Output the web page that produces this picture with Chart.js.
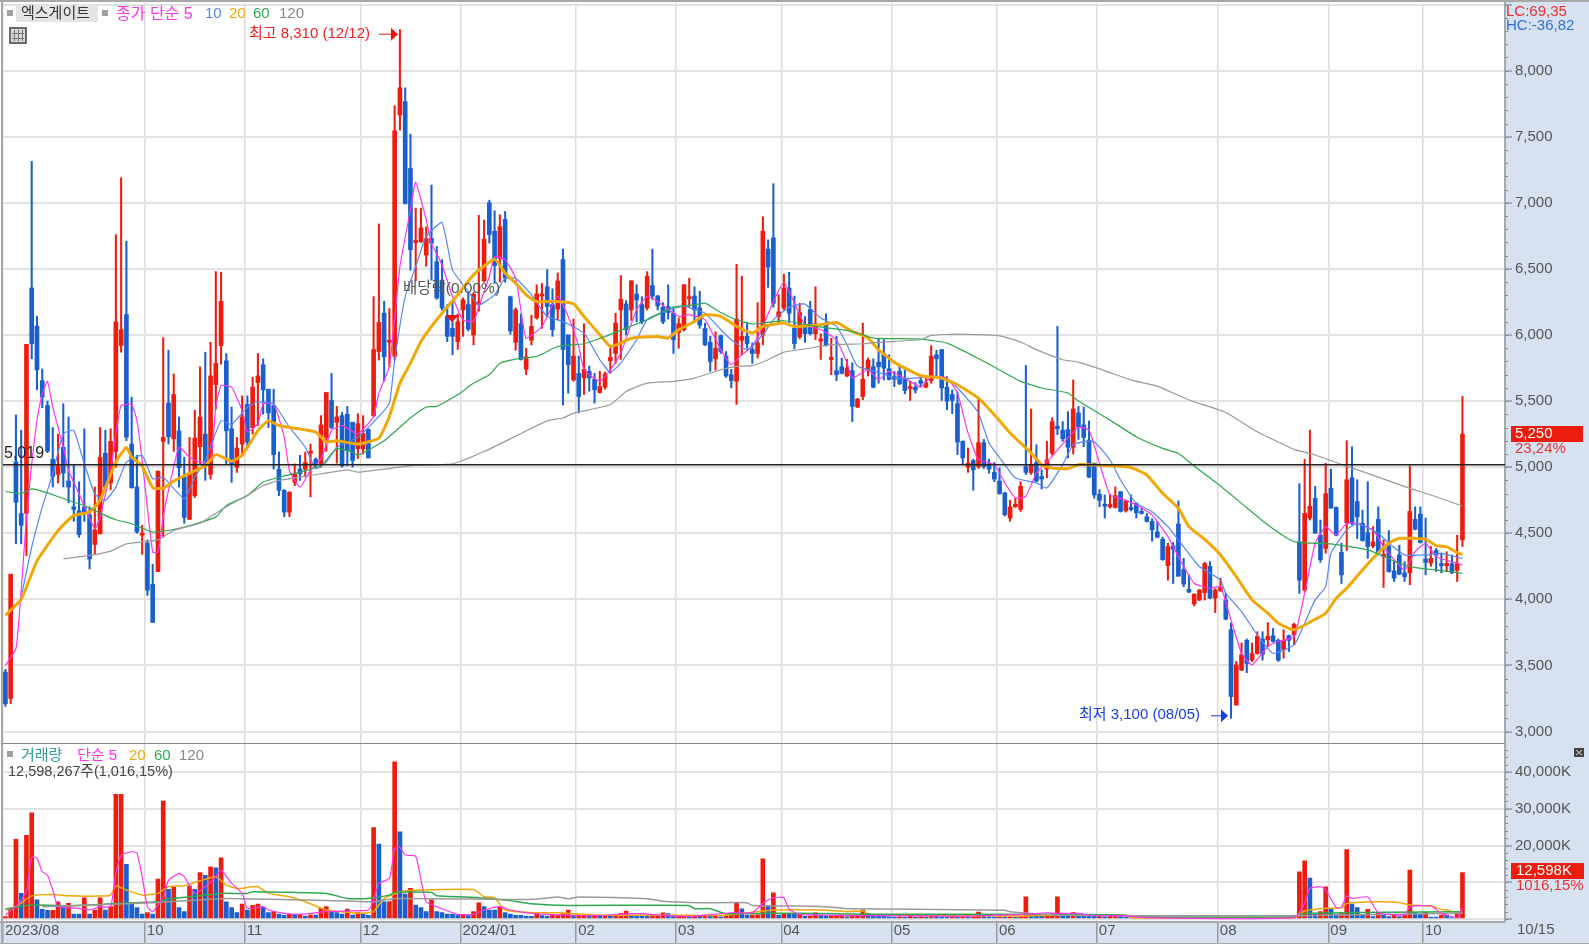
<!DOCTYPE html>
<html>
<head>
<meta charset="utf-8">
<title>엑스게이트</title>
<script src="https://cdn.jsdelivr.net/npm/chart.js@4/dist/chart.umd.min.js"></script>
<style>
  html, body { margin: 0; padding: 0; background: #fff; overflow: hidden; }
  canvas { position: absolute; left: 0; }
  #priceChart { top: 0; }
  #volumeChart { top: 744px; }
</style>
</head>
<body>
<canvas id="priceChart" width="1589" height="744"></canvas>
<canvas id="volumeChart" width="1589" height="203"></canvas>
<script>
// daily candles
const opens = [
  3450,3250,5040,4650,4650,6356,6067,5655,5466,5060,
  4945,5150,4895,4700,4670,4700,4640,4415,4495,5105,
  4880,5120,5920,6155,5175,4850,4485,4425,4113,4210,
  5195,5485,5215,5275,4925,4605,4785,5155,5250,4945,
  5625,5920,5805,5290,5000,5175,5475,5300,5640,5775,
  5590,5465,4985,4825,4660,4885,4985,4985,5105,5060,
  5025,5225,5505,5340,5390,5400,5340,5140,5140,5285,
  5390,5875,6165,5945,5840,7665,7765,7260,6700,6705,
  6605,6730,6555,6415,6140,6050,5950,6190,6230,6000,
  6230,6410,7000,6785,6580,6875,6290,5945,6085,5740,
  5960,6130,6295,6365,6230,6195,6570,6000,5660,5710,
  5675,5725,5665,5565,5605,5805,5860,6190,6235,6190,
  6310,6230,6205,6375,6295,6210,6215,6165,6020,6040,
  6275,6295,6205,6050,5945,5820,5995,5840,5700,5650,
  5960,5990,5890,5860,6000,6650,6735,6140,6205,6355,
  6050,5985,6080,6195,6010,5955,6085,5815,5730,5760,
  5690,5730,5455,5535,5735,5760,5795,5860,5745,5685,
  5725,5665,5595,5605,5655,5605,5655,5850,5890,5605,
  5550,5480,5195,5000,5050,5005,5185,5025,4960,4895,
  4805,4615,4700,4680,5005,4960,5035,4930,4985,5105,
  5310,5280,5285,5150,5410,5320,5205,5030,4795,4720,
  4700,4695,4815,4670,4690,4725,4665,4625,4590,4510,
  4455,4255,4405,4570,4225,4075,3965,3995,4050,4250,
  4010,4065,3995,3770,3200,3465,3690,3540,3590,3700,
  3695,3725,3690,3620,3725,3730,4435,4070,4615,4765,
  4485,4385,4840,4695,4355,4580,4920,4740,4575,4505,
  4405,4605,4325,4400,4215,4335,4200,4200,4605,4645,
  4305,4275,4370,4260,4255,4270,4220,4450
];
const highs = [
  3470,4190,5395,5280,5930,7314,6142,5743,5500,5300,
  5250,5480,5380,5020,4890,5290,4700,4850,5300,5280,
  5290,6760,7190,6710,5530,5090,4560,4450,4265,4970,
  5980,5885,5705,5380,5075,5225,5430,5760,5870,5945,
  6480,6475,5860,5455,5225,5540,5540,5680,5860,5820,
  5590,5590,5115,4830,4815,5025,5090,5115,5175,5070,
  5390,5565,5710,5460,5415,5460,5340,5405,5390,5290,
  6290,6840,6255,6200,7735,8310,7870,7520,6960,6960,
  6820,7135,6670,6570,6230,6260,6160,6280,6315,6320,
  6905,6870,7020,6940,6910,6935,6295,6205,6160,5900,
  6150,6380,6390,6495,6350,6470,6650,6000,6120,5840,
  6085,5765,5710,5725,5720,5900,6165,6450,6260,6410,
  6380,6290,6480,6650,6300,6245,6380,6205,6130,6380,
  6430,6365,6330,6090,5990,6025,6000,5875,5740,6535,
  6445,6090,5940,6245,6895,6720,7145,6305,6460,6475,
  6295,6240,6140,6255,6365,6010,6160,5975,5990,5825,
  5815,5790,5520,6090,5825,5820,5970,5965,5850,5725,
  5765,5735,5650,5640,5700,5690,5920,5885,5890,5685,
  5585,5570,5200,5145,5060,5525,5210,5060,5035,4995,
  4810,4750,4765,4890,5770,5440,5170,4980,5195,5375,
  6065,5345,5420,5660,5460,5455,5350,5030,4830,4790,
  4795,4850,4815,4750,4790,4730,4690,4650,4610,4590,
  4470,4425,4430,4745,4310,4185,4040,4075,4280,4285,
  4080,4160,4045,3820,3530,3670,3700,3670,3755,3755,
  3825,3780,3700,3770,3730,3820,4875,5060,5280,4855,
  4600,5030,4985,4700,4425,5200,5155,4905,4675,4890,
  4550,4700,4450,4520,4285,4410,4285,5010,4700,4700,
  4615,4400,4385,4350,4360,4335,4485,5535
];
const lows = [
  3190,3210,4420,4420,4330,5820,5585,5450,5110,4850,
  4880,4850,4730,4590,4470,4590,4230,4340,4495,4830,
  4830,5000,5870,5200,4840,4500,4340,4030,3825,4210,
  4470,5175,5120,4850,4575,4605,4770,5025,4900,4910,
  5440,5780,5025,4885,4960,5100,5160,5250,5315,5400,
  5300,4985,4785,4625,4625,4860,4900,4925,4775,5000,
  5000,5120,5290,5030,5000,5010,5000,5065,5100,5070,
  5380,5810,5650,5760,5810,7550,6990,6490,6410,6700,
  6520,6415,6270,6190,5950,5850,5890,5990,6030,5925,
  6180,6400,6695,6390,6400,6400,6005,5885,5810,5700,
  5925,6120,6050,6140,5990,6115,5470,5560,5650,5410,
  5550,5575,5485,5560,5590,5710,5785,5815,6000,6110,
  6100,6085,6190,6270,6190,6085,6120,5860,5900,6030,
  6215,6100,6050,5920,5725,5735,5860,5680,5600,5475,
  5850,5900,5785,5825,5925,6360,6210,6085,6190,6095,
  5895,5970,5945,6000,5965,5815,5915,5700,5655,5705,
  5685,5345,5450,5510,5690,5600,5635,5660,5660,5610,
  5625,5555,5505,5560,5610,5600,5635,5685,5505,5435,
  5405,5095,5025,4960,4825,4990,4990,4955,4890,4795,
  4630,4590,4695,4665,4945,4945,4890,4835,4920,5090,
  5245,5195,5070,5100,5210,5155,4920,4765,4700,4615,
  4690,4690,4660,4660,4670,4615,4645,4585,4440,4465,
  4295,4145,4120,4175,4095,4050,3950,3990,3995,4005,
  3900,4060,3845,3100,3200,3460,3445,3530,3585,3540,
  3640,3675,3530,3555,3605,3655,4045,4060,4600,4500,
  4280,4350,4690,4480,4120,4370,4565,4460,4440,4310,
  4390,4345,4090,4205,4135,4185,4135,4110,4525,4425,
  4185,4250,4210,4200,4210,4195,4135,4400
];
const closes = [
  3210,4190,4735,4560,5930,5935,5736,5530,5120,4930,
  5010,4955,4850,4680,4490,4650,4305,4525,5075,4850,
  5195,6100,6040,5227,4845,4510,4500,4070,3825,4970,
  5225,5230,5550,4995,4620,4945,5220,5380,5040,5690,
  5785,6255,5275,5025,5145,5380,5190,5605,5690,5585,
  5410,5095,4825,4660,4810,4950,4950,5035,5120,5025,
  5320,5565,5300,5380,5010,5125,5050,5330,5255,5070,
  5890,6095,5835,5960,7545,7870,6995,6645,6715,6810,
  6730,6695,6280,6205,5990,5990,6100,6265,6045,6310,
  6250,6725,6760,6525,6820,6430,6030,6190,5815,5835,
  6065,6310,6310,6215,6040,6410,5890,5775,5840,5535,
  5740,5675,5585,5610,5705,5830,6090,6270,6040,6410,
  6265,6100,6445,6295,6220,6100,6170,5965,6085,6380,
  6290,6190,6075,5925,5800,5900,5875,5690,5655,6120,
  5990,5935,5860,5940,6785,6515,6240,6175,6355,6165,
  5935,6170,6010,6010,6085,5970,5920,5830,5700,5710,
  5750,5460,5515,5665,5810,5605,5760,5750,5665,5665,
  5630,5580,5610,5585,5635,5640,5840,5820,5600,5500,
  5505,5190,5070,5030,4980,5185,5005,4985,4910,4800,
  4640,4700,4720,4855,4960,5020,4895,4910,5055,5345,
  5290,5215,5150,5440,5305,5225,4925,4790,4750,4705,
  4720,4785,4665,4745,4680,4655,4650,4590,4525,4470,
  4300,4400,4380,4175,4115,4055,4040,4070,4270,4010,
  4070,4090,3850,3265,3505,3580,3515,3590,3720,3585,
  3720,3680,3540,3690,3690,3810,4145,4650,4705,4500,
  4300,4800,4690,4485,4185,4905,4575,4625,4445,4400,
  4435,4350,4335,4210,4160,4190,4170,4665,4530,4430,
  4280,4310,4335,4255,4265,4200,4270,5250
];
// volume in thousands of shares
const volumes = [
  630,2900,21700,6970,22800,28900,5200,2600,2350,2360,
  4700,3350,4250,1350,1340,5790,1350,2440,5790,2440,
  3350,33900,33910,14900,4250,3080,1350,1720,1350,10860,
  32100,8070,8600,3080,1990,8960,8070,12600,11900,14200,
  13900,16650,4700,3080,1720,4070,2440,3710,4070,3170,
  1720,1990,1350,1000,1270,1090,1095,810,1090,1085,
  2900,3350,2170,1720,1350,2710,1090,1720,1350,1000,
  24900,20400,4700,4710,42800,23700,6800,8330,3800,3080,
  2000,5200,2000,1720,1350,1340,1090,1270,900,1990,
  4430,3350,2440,2430,3170,1720,1350,1000,990,810,
  700,1500,900,800,1000,1100,1500,2400,1000,1100,
  1150,1000,1100,800,900,800,1000,1500,2170,1000,
  900,850,800,1000,1100,1700,1450,800,900,1000,
  800,900,700,800,700,900,600,800,1000,4250,
  2800,1000,1100,1150,16400,3700,7150,1100,1550,1270,
  1260,1500,700,800,1700,1100,900,900,1000,1100,
  600,700,1100,2440,1500,1000,800,700,600,500,
  600,500,700,500,600,550,1300,800,600,500,
  600,500,650,500,600,1900,800,600,500,600,
  500,600,500,650,6000,1300,1000,800,900,1400,
  6000,1300,1200,1720,1500,1300,1000,800,900,600,
  900,1000,800,600,500,500,350,300,350,300,
  300,350,300,400,300,280,300,260,320,300,
  280,300,320,400,350,300,280,320,300,350,
  350,300,280,320,300,400,12850,15840,11130,1540,
  1990,8780,2700,1270,1500,18900,4070,3080,1090,2620,
  630,1540,1270,630,1090,630,1090,13300,1810,1270,
  1810,540,500,1090,1080,360,1360,12598
];

// moving averages as [day index, value] pairs
const ma5 = [[0,3500],[2,3627],[3,4068],[4,4622],[5,5025],[6,5353],[7,5554],[8,5650],[9,5454],[11,5151],[12,4975],[14,4798],[17,4534],[18,4622],[20,4975],[21,5252],[22,5466],[24,5474],[25,5353],[26,5050],[28,4357],[29,4357],[30,4622],[31,4824],[33,5151],[35,5075],[37,5038],[39,5050],[40,5454],[41,5617],[43,5605],[45,5428],[46,5265],[48,5328],[49,5479],[51,5479],[53,5227],[54,4975],[56,4849],[58,4975],[60,5063],[62,5277],[64,5315],[67,5252],[70,5384],[71,5560],[73,5762],[75,6518],[77,6947],[78,7156],[80,6871],[81,6695],[83,6531],[85,6291],[87,6115],[89,6102],[90,6216],[92,6443],[93,6594],[95,6569],[97,6430],[98,6191],[99,5976],[102,6065],[105,6291],[107,6140],[109,5913],[110,5737],[113,5649],[115,5737],[117,5863],[120,6191],[122,6291],[124,6254],[128,6140],[130,6153],[133,6115],[136,5889],[138,5775],[140,5851],[142,5914],[144,6065],[146,6254],[148,6398],[150,6241],[152,6078],[155,6040],[158,5964],[160,5788],[161,5674],[164,5737],[166,5662],[168,5725],[171,5674],[174,5606],[176,5687],[179,5674],[181,5561],[183,5259],[185,5057],[188,5019],[190,4881],[192,4767],[194,4780],[196,4956],[199,5082],[202,5221],[204,5300],[206,5281],[208,5029],[210,4789],[212,4764],[215,4714],[218,4638],[221,4474],[223,4323],[226,4122],[229,4084],[231,4096],[233,3844],[235,3592],[237,3504],[240,3643],[242,3681],[245,3718],[247,4046],[249,4424],[251,4550],[253,4487],[255,4575],[257,4575],[260,4525],[262,4399],[266,4222],[268,4361],[270,4424],[272,4323],[276,4273],[277,4260]];
const ma10 = [[3,4017],[5,4395],[7,4698],[9,4950],[11,5252],[13,5277],[15,5025],[17,4798],[19,4748],[21,4849],[23,5038],[26,5088],[28,4912],[30,4924],[34,4761],[36,4924],[38,5050],[41,5353],[43,5322],[46,5454],[48,5491],[51,5479],[54,5302],[57,5151],[59,4987],[61,5038],[63,5151],[67,5227],[71,5384],[73,5485],[74,5813],[76,6291],[78,6518],[80,6745],[83,6851],[85,6493],[88,6329],[90,6228],[93,6304],[95,6430],[97,6430],[100,6304],[103,6140],[106,6102],[110,6014],[113,5813],[115,5717],[117,5788],[120,5964],[122,6115],[126,6191],[129,6216],[133,6165],[136,6040],[138,5964],[141,5889],[144,6002],[146,6115],[149,6211],[152,6234],[155,6128],[158,6065],[160,5926],[162,5763],[166,5717],[169,5674],[173,5674],[176,5687],[180,5637],[183,5511],[185,5410],[187,5183],[190,5019],[192,4918],[196,4881],[198,4843],[201,5019],[203,5170],[205,5193],[207,5193],[210,5054],[212,4903],[215,4726],[218,4663],[221,4550],[223,4449],[227,4248],[231,4147],[232,4046],[235,3907],[238,3731],[241,3592],[245,3655],[247,3819],[249,3996],[251,4096],[252,4348],[255,4525],[257,4575],[261,4500],[263,4424],[266,4336],[270,4336],[273,4348],[277,4310]];
const ma20 = [[0,3880],[3,4000],[6,4290],[10,4520],[13,4635],[16,4660],[18,4750],[21,5040],[23,5150],[24,5075],[26,5010],[28,4845],[30,4840],[32,4895],[34,4935],[38,5010],[40,5095],[43,5045],[45,5090],[48,5277],[50,5350],[52,5315],[55,5295],[59,5265],[61,5190],[63,5200],[67,5175],[71,5220],[73,5384],[75,5636],[77,5787],[79,5951],[81,6065],[83,6165],[86,6304],[89,6455],[93,6574],[95,6468],[97,6392],[99,6304],[101,6254],[105,6254],[108,6236],[110,6140],[113,6002],[115,5913],[117,5939],[119,5976],[124,5989],[126,5976],[128,6040],[131,6102],[133,6153],[136,6141],[139,6065],[142,6015],[144,6065],[148,6090],[150,6065],[155,6078],[158,6095],[161,6027],[164,5977],[166,5889],[169,5793],[174,5692],[178,5674],[181,5624],[185,5523],[188,5397],[191,5259],[195,5107],[197,5019],[199,4994],[202,4989],[204,5019],[207,5016],[211,5009],[214,4998],[217,4941],[220,4802],[223,4689],[225,4550],[228,4454],[231,4336],[234,4172],[237,3996],[240,3895],[242,3819],[245,3769],[249,3849],[251,3895],[253,4008],[255,4084],[258,4222],[260,4311],[263,4424],[265,4462],[270,4454],[272,4406],[274,4399],[276,4353],[277,4340]];
const ma60 = [[0,4816],[3,4800],[5,4836],[8,4806],[12,4748],[15,4710],[18,4652],[21,4602],[24,4572],[28,4509],[31,4521],[34,4546],[40,4622],[42,4710],[46,4786],[49,4887],[52,4924],[56,4962],[60,5013],[63,5139],[66,5113],[67,5088],[72,5200],[77,5372],[80,5455],[82,5460],[86,5548],[89,5636],[92,5699],[94,5787],[97,5818],[101,5838],[105,5913],[110,5934],[114,5989],[118,6052],[122,6115],[127,6211],[131,6228],[133,6241],[136,6170],[139,6115],[142,6083],[144,6090],[148,6108],[154,6065],[159,6040],[162,6015],[165,5977],[174,5969],[179,5939],[183,5863],[188,5758],[193,5649],[197,5599],[202,5561],[204,5500],[210,5356],[215,5230],[220,5142],[223,5104],[226,5009],[231,4857],[235,4726],[240,4563],[245,4437],[252,4419],[259,4374],[265,4273],[268,4240],[273,4217],[277,4197]];
const ma120 = [[11,4307],[16,4332],[20,4365],[23,4420],[29,4450],[32,4521],[37,4577],[40,4652],[43,4723],[46,4786],[49,4861],[52,4899],[56,4924],[60,4950],[65,4980],[67,4962],[72,4985],[78,5015],[85,5025],[91,5118],[97,5235],[103,5350],[106,5372],[108,5409],[115,5472],[118,5573],[122,5636],[127,5649],[131,5674],[136,5737],[139,5763],[142,5768],[145,5813],[148,5871],[152,5894],[157,5927],[163,5934],[169,5952],[174,5964],[176,5997],[181,6007],[189,5994],[193,5947],[196,5889],[201,5813],[204,5795],[209,5730],[214,5659],[219,5613],[225,5508],[232,5414],[238,5268],[245,5135],[249,5092],[254,5021],[259,4953],[267,4840],[271,4789],[277,4706]];

const vol5 = [[0,1090],[2,3350],[4,7600],[5,16800],[6,16560],[7,12850],[8,11900],[9,7900],[10,3350],[12,3080],[14,2900],[16,2440],[18,3350],[20,3350],[21,12400],[22,17400],[24,18300],[25,18000],[26,11500],[27,3350],[28,2000],[30,6000],[31,10500],[33,12400],[34,11500],[36,7000],[38,8800],[40,11500],[41,13300],[43,9700],[45,7000],[46,2900],[49,3350],[50,2440],[53,1540],[56,1270],[61,2000],[65,2170],[69,2440],[70,5200],[71,9700],[73,11000],[74,19100],[75,19500],[76,17400],[78,17100],[79,10600],[80,4700],[82,3350],[86,1270],[89,1270],[91,2440],[94,3350],[96,2440],[100,1540],[107,1000],[112,900],[119,1450],[121,1450],[125,1000],[130,700],[138,1700],[142,1700],[144,4250],[146,5800],[148,5800],[149,2600],[151,1270],[158,1000],[165,900],[183,800],[194,1300],[198,1700],[200,1540],[204,1540],[207,900],[213,900],[217,360],[245,360],[247,4250],[248,8300],[250,8800],[251,7900],[253,3170],[254,3170],[255,6300],[256,5600],[259,6000],[261,1720],[266,1090],[267,3350],[271,3600],[273,1540],[276,400],[277,3000]];
const vol20 = [[0,2440],[2,3350],[5,6300],[9,6700],[12,6300],[18,6250],[20,6500],[21,9050],[23,7870],[26,6500],[29,6970],[31,8800],[34,9050],[37,10400],[40,11500],[42,9230],[44,8300],[48,8800],[50,6970],[54,6060],[57,4700],[61,2440],[68,1540],[70,2000],[72,5600],[76,7700],[89,8050],[91,6060],[93,5790],[95,2440],[100,1720],[105,1700],[112,1090],[120,1000],[128,1000],[137,1000],[141,1700],[146,2440],[155,2440],[160,2000],[163,2170],[164,1270],[170,1000],[193,800],[200,1090],[213,1090],[214,360],[245,360],[247,2170],[251,2900],[254,3080],[255,4250],[261,4700],[265,4500],[267,3800],[271,3530],[273,2620],[274,2440],[276,1720],[277,1700]];
const vol60 = [[0,2700],[5,3800],[12,3620],[16,3800],[21,4250],[29,4700],[31,5430],[37,6300],[41,6970],[46,6970],[47,7400],[61,6970],[65,5600],[69,5600],[73,6500],[74,7240],[81,7240],[82,6300],[90,5800],[96,5000],[100,4160],[107,3700],[130,3700],[131,2800],[134,2800],[137,1450],[145,1540],[151,1540],[164,1270],[200,1270],[212,1090],[217,630],[245,630],[247,1540],[277,2000]];
const vol120 = [[7,3350],[29,4500],[42,5600],[65,4900],[70,4700],[74,5600],[100,5340],[105,5970],[107,5520],[109,5970],[122,5520],[125,4800],[132,4430],[141,4430],[142,3700],[150,3530],[156,3350],[160,2800],[173,2620],[190,2350],[191,2000],[200,1090],[217,900],[245,900],[277,1540]];

const priceTicks = [3000,3500,4000,4500,5000,5500,6000,6500,7000,7500,8000];
const volumeTicks = [20000,30000,40000];
const monthAt = [-0.46,26.5,45.5,67.5,86.5,108.5,127.5,147.5,168.5,188.5,207.5,230.5,251.5,269.5];
const monthLabels = ['2023/08','10','11','12','2024/01','02','03','04','05','06','07','08','09','10'];
const basePrice = 5019;
const highDay = 75, highPrice = 8310;
const lowDay = 233, lowPrice = 3100;

const RED = '#ee1c0c', BLUE = '#1a5fce';
const C_MA5 = '#ff33ee', C_MA10 = '#5585f5', C_MA20 = '#f0a808', C_MA60 = '#2fa84f', C_MA120 = '#9a9a9a';
const BAND = '#d6e2f0', GRID = '#e2e2e2', EDGE = '#a8a8a8';
const FONT = '"Liberation Sans","Noto Sans CJK KR",sans-serif';
const X_MIN = -0.46, X_MAX = 285.09;

function put(ctx, str, x, y, color, size, align) {
  ctx.font = (size || 15) + 'px ' + FONT;
  ctx.fillStyle = color;
  ctx.textAlign = align || 'left';
  ctx.textBaseline = 'middle';
  ctx.fillText(str, x, y);
}

function minorTicks(ctx, scale, x) {
  ctx.strokeStyle = '#888';
  ctx.lineWidth = 1;
  scale.ticks.forEach(t => {
    const y = Math.round(scale.getPixelForValue(t.value)) + 0.5;
    ctx.beginPath();
    ctx.moveTo(x, y);
    ctx.lineTo(x + 3, y);
    ctx.stroke();
  });
}

function lineSet(points, color, width, order) {
  return {
    type: 'line',
    data: points.map(p => ({x: p[0], y: p[1]})),
    borderColor: color,
    borderWidth: width,
    pointRadius: 0,
    tension: 0.15,
    order: order
  };
}

function paintPanel(chart) {
  const ctx = chart.ctx, a = chart.chartArea;
  ctx.save();
  ctx.fillStyle = BAND;
  ctx.fillRect(0, 0, chart.width, chart.height);
  ctx.fillStyle = '#fff';
  ctx.fillRect(0, 0, a.right, a.bottom);
  ctx.restore();
}

function arrow(ctx, x0, x1, y, color) {
  ctx.strokeStyle = color;
  ctx.fillStyle = color;
  ctx.lineWidth = 1;
  ctx.beginPath();
  ctx.moveTo(x0, y + 0.5);
  ctx.lineTo(x1 - 6, y + 0.5);
  ctx.stroke();
  ctx.beginPath();
  ctx.moveTo(x1 - 7, y - 6);
  ctx.lineTo(x1, y + 0.5);
  ctx.lineTo(x1 - 7, y + 7);
  ctx.closePath();
  ctx.fill();
}

const priceDecor = {
  id: 'priceDecor',
  beforeDraw: paintPanel,
  afterDraw(chart) {
    const ctx = chart.ctx, x = chart.scales.x, y = chart.scales.y;
    ctx.save();
    minorTicks(ctx, y, 1505);

    // frame
    ctx.fillStyle = EDGE;
    ctx.fillRect(0, 0, 1589, 2);
    ctx.fillRect(1, 0, 2, 744);
    ctx.fillStyle = '#888';
    ctx.fillRect(3, 743, 1502, 1);

    // legend strip
    ctx.fillStyle = '#a0a0a0';
    ctx.fillRect(7, 10, 6, 6);
    ctx.fillRect(102, 10, 6, 6);
    ctx.fillStyle = '#e4e4e4';
    ctx.fillRect(16, 4, 82, 18);
    put(ctx, '엑스게이트', 21, 14, '#333', 15);
    put(ctx, '종가 단순 5', 116, 15, C_MA5, 16);
    put(ctx, '10', 205, 14, C_MA10);
    put(ctx, '20', 229, 14, C_MA20);
    put(ctx, '60', 253, 14, C_MA60);
    put(ctx, '120', 279, 14, '#888');

    // table icon
    ctx.fillStyle = '#d8d8d8';
    ctx.fillRect(9, 27, 18, 17);
    ctx.strokeStyle = '#444';
    ctx.lineWidth = 1.5;
    ctx.strokeRect(10, 28, 16, 15);
    ctx.lineWidth = 1;
    ctx.strokeStyle = '#777';
    [14, 18, 22].forEach(v => { ctx.beginPath(); ctx.moveTo(v + 0.5, 30); ctx.lineTo(v + 0.5, 41); ctx.stroke(); });
    [33, 38].forEach(v => { ctx.beginPath(); ctx.moveTo(12, v + 0.5); ctx.lineTo(24, v + 0.5); ctx.stroke(); });

    // high / low markers
    const hx = x.getPixelForValue(highDay), hy = y.getPixelForValue(highPrice) + 4;
    put(ctx, '최고 8,310 (12/12)', 249, hy, '#f02020');
    arrow(ctx, hx - 21, hx - 2, hy, '#f01010');
    const lx = x.getPixelForValue(lowDay), ly = y.getPixelForValue(lowPrice) - 3;
    put(ctx, '최저 3,100 (08/05)', 1079, ly, '#1a3fe0');
    arrow(ctx, lx - 20, lx - 3, ly, '#1a3fe0');

    // ex-dividend marker
    put(ctx, '배당락(0.00%)', 403, 289, '#555', 15.5);
    ctx.fillStyle = '#f01010';
    ctx.beginPath();
    ctx.moveTo(445, 315);
    ctx.lineTo(459, 315);
    ctx.lineTo(452, 322);
    ctx.closePath();
    ctx.fill();

    put(ctx, '5,019', 4, y.getPixelForValue(basePrice) - 11, '#222', 16);

    // right side readouts
    put(ctx, 'LC:69,35', 1506, 12, '#e83030');
    put(ctx, 'HC:-36,82', 1506, 26, '#2f6fd8');
    ctx.fillStyle = RED;
    ctx.fillRect(1511, 426, 72, 16);
    put(ctx, '5,250', 1515, 434, '#fff');
    put(ctx, '23,24%', 1515, 449, '#e83030');
    ctx.restore();
  }
};

const volumeDecor = {
  id: 'volumeDecor',
  beforeDraw: paintPanel,
  afterDraw(chart) {
    const ctx = chart.ctx, y = chart.scales.y, top = 744;
    ctx.save();
    minorTicks(ctx, y, 1505);

    ctx.fillStyle = EDGE;
    ctx.fillRect(1, 0, 2, 199);
    ctx.fillRect(0, 921 - top, 1505, 2);
    ctx.fillRect(0, 943 - top, 1589, 1);
    ctx.fillStyle = '#fff';
    ctx.fillRect(0, 944 - top, 1589, 3);

    ctx.fillStyle = '#a0a0a0';
    ctx.fillRect(7, 751 - top, 6, 6);
    put(ctx, '거래량', 21, 756 - top, '#2f9c9c', 15);
    put(ctx, '단순 5', 77, 756 - top, C_MA5, 15);
    put(ctx, '20', 129, 756 - top, C_MA20);
    put(ctx, '60', 154, 756 - top, C_MA60);
    put(ctx, '120', 179, 756 - top, '#888');
    put(ctx, '12,598,267주(1,016,15%)', 8, 772 - top, '#444', 14.5);

    // close box
    ctx.fillStyle = '#444';
    ctx.fillRect(1574, 748 - top, 10, 9);
    ctx.strokeStyle = '#ddd';
    ctx.beginPath();
    ctx.moveTo(1576, 750 - top); ctx.lineTo(1582, 755 - top);
    ctx.moveTo(1582, 750 - top); ctx.lineTo(1576, 755 - top);
    ctx.stroke();

    ctx.fillStyle = RED;
    ctx.fillRect(1511, 863 - top, 73, 16);
    put(ctx, '12,598K', 1516, 871 - top, '#fff');
    put(ctx, '1016,15%', 1516, 886 - top, '#e83030');
    put(ctx, '10/15', 1517, 930 - top, '#555');
    ctx.restore();
  }
};

const upDown = closes.map((c, i) => c >= opens[i] ? RED : BLUE);
const wickBars = closes.map((c, i) => ({x: i, y: [lows[i], highs[i]]}));
const bodyBars = closes.map((c, i) => ({x: i, y: [opens[i], c]}));
const volBars = volumes.map((v, i) => ({x: i, y: v}));
const volColors = volumes.map((v, i) => i === 0 || v >= volumes[i - 1] ? RED : BLUE);

function xAxis(showLabels) {
  return {
    type: 'linear',
    min: X_MIN,
    max: X_MAX,
    offset: false,
    afterBuildTicks(s) { s.ticks = monthAt.map(v => ({value: v})); },
    afterFit(s) {
      s.height = showLabels ? 26.3 : 0;
      s.paddingLeft = 0;
      s.paddingRight = 0;
    },
    border: {display: false},
    grid: {offset: false, color: '#dcdcdc', lineWidth: 1.5, drawTicks: showLabels, tickLength: 22, tickColor: '#999', tickWidth: 1.5},
    ticks: {
      display: showLabels,
      autoSkip: false,
      maxRotation: 0,
      align: 'start',
      labelOffset: 2,
      padding: -20.5,
      color: '#555',
      font: {family: FONT, size: 15},
      callback: (v, i) => monthLabels[i]
    }
  };
}

function yAxis(min, max, step, gridEvery, labelled, fmt) {
  return {
    position: 'right',
    min: min,
    max: max,
    afterBuildTicks(s) {
      const list = [];
      for (let v = Math.ceil(min / step) * step; v <= max; v += step) list.push({value: v});
      s.ticks = list;
    },
    afterFit(s) {
      s.width = 84;
      s.paddingTop = 0;
      s.paddingBottom = 0;
    },
    border: {color: EDGE, width: 2},
    grid: {
      lineWidth: 2,
      tickLength: 7,
      tickWidth: 1,
      color: c => c.tick.value % gridEvery === 0 ? GRID : 'rgba(0,0,0,0)',
      tickColor: c => c.tick.value % gridEvery === 0 ? '#777' : 'rgba(0,0,0,0)'
    },
    ticks: {
      autoSkip: false,
      padding: 3,
      color: '#555',
      font: {family: FONT, size: 15},
      callback: v => labelled.includes(v) ? fmt(v) : ''
    }
  };
}

new Chart(document.getElementById('priceChart'), {
  data: {
    datasets: [
      lineSet(ma120, C_MA120, 1.2, 1),
      lineSet(ma60, C_MA60, 1.2, 1),
      lineSet(ma20, C_MA20, 3, 1),
      lineSet(ma10, C_MA10, 1.2, 1),
      lineSet(ma5, C_MA5, 1.2, 1),
      {type: 'line', data: [{x: X_MIN, y: basePrice}, {x: X_MAX, y: basePrice}], borderColor: '#222', borderWidth: 1.5, pointRadius: 0, order: 0},
      {type: 'bar', data: bodyBars, backgroundColor: upDown, barThickness: 4, minBarLength: 2, grouped: false, order: 2},
      {type: 'bar', data: wickBars, backgroundColor: upDown, barThickness: 1.4, grouped: false, order: 3}
    ]
  },
  options: {
    responsive: false,
    animation: false,
    devicePixelRatio: 1,
    layout: {padding: {left: 3, top: 3, right: 0, bottom: 1}},
    plugins: {legend: {display: false}, tooltip: {enabled: false}},
    scales: {
      x: xAxis(false),
      y: yAxis(2913, 8512, 100, 500, priceTicks, v => v.toLocaleString('en-US'))
    }
  },
  plugins: [priceDecor]
});

new Chart(document.getElementById('volumeChart'), {
  data: {
    datasets: [
      lineSet(vol120, C_MA120, 1.5, 1),
      lineSet(vol60, C_MA60, 1.5, 1),
      lineSet(vol20, C_MA20, 1.5, 1),
      lineSet(vol5, C_MA5, 1.2, 0),
      {type: 'bar', data: volBars, backgroundColor: volColors, barThickness: 4, grouped: false, order: 2}
    ]
  },
  options: {
    responsive: false,
    animation: false,
    devicePixelRatio: 1,
    layout: {padding: {left: 3, top: 0, right: 0, bottom: 0}},
    plugins: {legend: {display: false}, tooltip: {enabled: false}},
    scales: {
      x: xAxis(true),
      y: yAxis(-463, 47620, 2000, 10000, volumeTicks, v => v.toLocaleString('en-US') + 'K')
    }
  },
  plugins: [volumeDecor]
});
</script>
</body>
</html>
